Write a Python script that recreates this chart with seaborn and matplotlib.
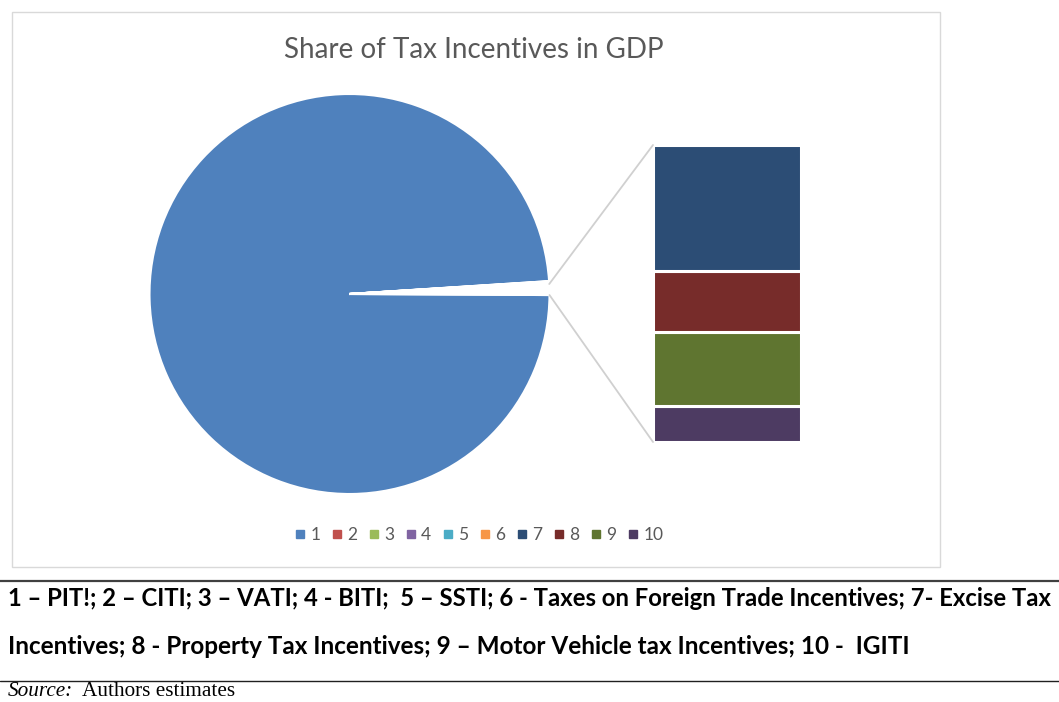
import matplotlib
matplotlib.use("Agg")
import matplotlib.pyplot as plt
import seaborn as sns
from matplotlib.patches import Rectangle, ConnectionPatch
from matplotlib.lines import Line2D
import numpy as np

# ---------------- data ----------------
categories = ["1", "2", "3", "4", "5", "6", "7", "8", "9", "10"]
values = [5.82, 0.003, 0.004, 0.003, 0.0015, 0.002, 0.022, 0.0106, 0.013, 0.0062]
colors = ["#4F81BD", "#C0504D", "#9BBB59", "#8064A2", "#4BACC6",
          "#F79646", "#2C4D75", "#772C2A", "#5F7530", "#4D3B62"]
title = "Share of Tax Incentives in GDP"
note_line1 = "1 \u2013 PIT!; 2 \u2013 CITI; 3 \u2013 VATI; 4 - BITI;  5 \u2013 SSTI; 6 - Taxes on Foreign Trade Incentives; 7- Excise Tax"
note_line2 = "Incentives; 8 - Property Tax Incentives; 9 \u2013 Motor Vehicle tax Incentives; 10 -  IGITI"

sns.set_theme(style="white")
plt.rcParams["font.family"] = ["Lato", "DejaVu Sans"]

W, H = 1059, 702
fig = plt.figure(figsize=(W / 100, H / 100), dpi=100)
fig.patch.set_facecolor("white")

def fx(x):
    return x / W

def fy(y):
    return 1 - y / H

# chart frame
fig.add_artist(Rectangle((fx(12), fy(567)), fx(928), 555 / H, transform=fig.transFigure,
                         fill=False, edgecolor="#d9d9d9", lw=1.0))

# ---------------- pie ----------------
pie_vals = [values[0]] + [sum(values[6:])] + values[1:6]
pie_cols = [colors[0]] + ["#ffffff"] + colors[1:6]
total = sum(pie_vals)
theta_other = pie_vals[1] / total * 360
theta_small = sum(values[1:6]) / total * 360
start = theta_other + theta_small - 0.3

cx, cy, r = 349.5, 294, 200
ax_pie = fig.add_axes([fx(cx - r), fy(cy + r), 2 * r / W, 2 * r / H])
wedges, _ = ax_pie.pie(pie_vals, colors=pie_cols, startangle=start, counterclock=True,
                       radius=1, wedgeprops=dict(edgecolor="white", linewidth=1.5))
ax_pie.set_xlim(-1, 1)
ax_pie.set_ylim(-1, 1)
ax_pie.set_axis_off()

# ---------------- bar of pie ----------------
bar_vals = values[6:]
bar_cols = colors[6:]
ax_bar = fig.add_axes([fx(653), fy(442), 148 / W, 297 / H])
bottom = 0.0
for v, c in zip(reversed(bar_vals), reversed(bar_cols)):
    ax_bar.bar(0, v, bottom=bottom, width=1.0, color=c, edgecolor="white", linewidth=2.2)
    bottom += v
ax_bar.set_xlim(-0.5, 0.5)
ax_bar.set_ylim(0, bottom)
ax_bar.set_axis_off()

# connector lines
a0 = np.deg2rad(start + pie_vals[0] / total * 360)
a1 = a0 + np.deg2rad(theta_other)
for ang, yb in [(a1, bottom), (a0, 0)]:
    con = ConnectionPatch(xyA=(np.cos(ang), np.sin(ang)), coordsA=ax_pie.transData,
                          xyB=(-0.5, yb), coordsB=ax_bar.transData,
                          color="#d0d0d0", lw=1.3)
    fig.add_artist(con)

# title
fig.text(fx(474), fy(50), title, ha="center", va="center", fontsize=20, color="#595959")

# legend
handles = [Line2D([0], [0], marker="s", linestyle="", markersize=5.5,
                  markerfacecolor=c, markeredgecolor=c) for c in colors]
fig.legend(handles, categories, loc="center", bbox_to_anchor=(fx(479), fy(535)), ncol=10,
           frameon=False, fontsize=12.5, handlelength=0.6, handletextpad=0.3,
           columnspacing=0.65, labelcolor="#595959")

# bottom notes
fig.add_artist(Line2D([0, 1], [fy(581), fy(581)], transform=fig.transFigure, color="#404040", lw=1.6))
fig.add_artist(Line2D([0, 1], [fy(681), fy(681)], transform=fig.transFigure, color="#202020", lw=1.0))

fig.canvas.draw()
renderer = fig.canvas.get_renderer()

def fit_text(x, y, s, target_w, va="center", **kw):
    t = fig.text(fx(x), fy(y), s, ha="left", va=va, **kw)
    fs = kw.get("fontsize", 14)
    w = t.get_window_extent(renderer).width
    t.set_fontsize(fs * target_w / w)
    return t

fit_text(8, 598, note_line1, 1047, fontsize=14, fontweight="bold", color="black")
fit_text(8, 647, note_line2, 907, fontsize=14, fontweight="bold", color="black")

src = fig.text(fx(8), fy(701.5), "Source:", ha="left", va="bottom", fontsize=15.3,
               fontstyle="italic", family=["Liberation Serif"], color="black")
fig.canvas.draw()
x_end = src.get_window_extent(renderer).x1
fig.text((x_end + 9) / W, fy(701.5), "Authors estimates", ha="left", va="bottom",
         fontsize=15.3, family=["Liberation Serif"], color="black")

fig.savefig("out.png", dpi=100, facecolor="white")
